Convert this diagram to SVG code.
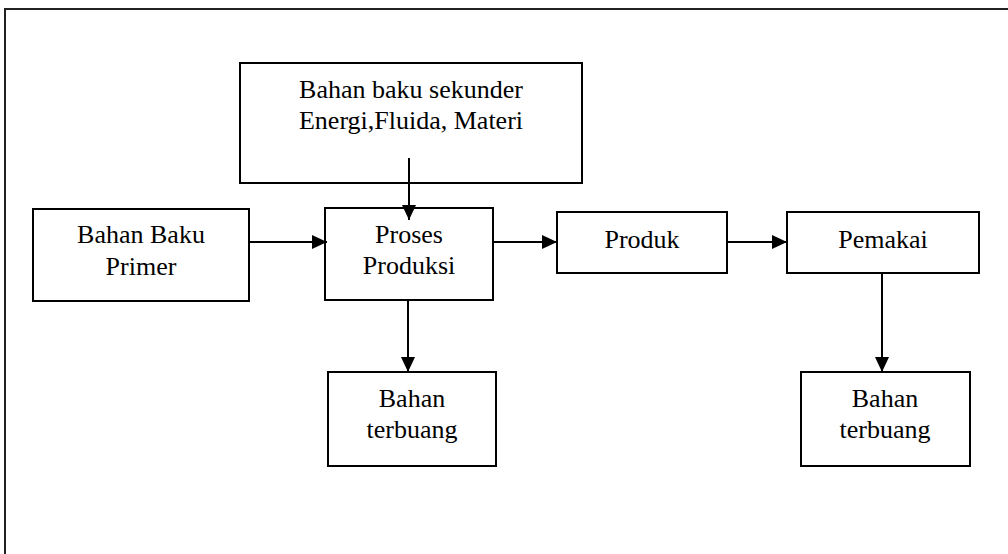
<svg xmlns="http://www.w3.org/2000/svg" width="1008" height="554" viewBox="0 0 1008 554">
  <style>
    .box { fill: #ffffff; stroke: #000000; stroke-width: 2; }
    .lbl { font-family: "Liberation Serif", "Times New Roman", serif; font-size: 26px; fill: #000000; text-anchor: middle; }
    .conn { stroke: #000000; stroke-width: 2; fill: none; marker-end: url(#arrow); }
  </style>
  <defs>
    <marker id="arrow" markerUnits="userSpaceOnUse" markerWidth="16" markerHeight="14" refX="15" refY="7" orient="auto">
      <path d="M0,0 L15,7 L0,14 z" fill="#000000"/>
    </marker>
  </defs>
  <rect width="1008" height="554" fill="#ffffff"/>
  <rect id="frame" x="5" y="9" width="1100" height="600" fill="none" stroke="#222222" stroke-width="2"/>

  <g id="node-sekunder">
    <rect class="box" x="240" y="63" width="342" height="120"/>
    <text class="lbl" x="411" y="98">Bahan baku sekunder</text>
    <text class="lbl" x="411" y="129">Energi,Fluida, Materi</text>
  </g>
  <g id="node-primer">
    <rect class="box" x="33" y="209" width="216" height="92"/>
    <text class="lbl" x="141" y="243">Bahan Baku</text>
    <text class="lbl" x="141" y="275">Primer</text>
  </g>
  <g id="node-proses">
    <rect class="box" x="325" y="208" width="168" height="92"/>
    <text class="lbl" x="409" y="243">Proses</text>
    <text class="lbl" x="409" y="274">Produksi</text>
  </g>
  <g id="node-produk">
    <rect class="box" x="557" y="212" width="170" height="61"/>
    <text class="lbl" x="642" y="248">Produk</text>
  </g>
  <g id="node-pemakai">
    <rect class="box" x="787" y="212" width="192" height="61"/>
    <text class="lbl" x="883" y="248">Pemakai</text>
  </g>
  <g id="node-terbuang1">
    <rect class="box" x="328" y="372" width="168" height="94"/>
    <text class="lbl" x="412" y="407">Bahan</text>
    <text class="lbl" x="412" y="438">terbuang</text>
  </g>
  <g id="node-terbuang2">
    <rect class="box" x="801" y="372" width="169" height="94"/>
    <text class="lbl" x="885" y="407">Bahan</text>
    <text class="lbl" x="885" y="438">terbuang</text>
  </g>

  <g id="connectors">
    <line class="conn" x1="409" y1="158" x2="409" y2="220"/>
    <line class="conn" x1="249" y1="242" x2="327" y2="242"/>
    <line class="conn" x1="493" y1="242" x2="557" y2="242"/>
    <line class="conn" x1="727" y1="242" x2="787" y2="242"/>
    <line class="conn" x1="408" y1="300" x2="408" y2="372"/>
    <line class="conn" x1="882" y1="273" x2="882" y2="372"/>
  </g>
</svg>
